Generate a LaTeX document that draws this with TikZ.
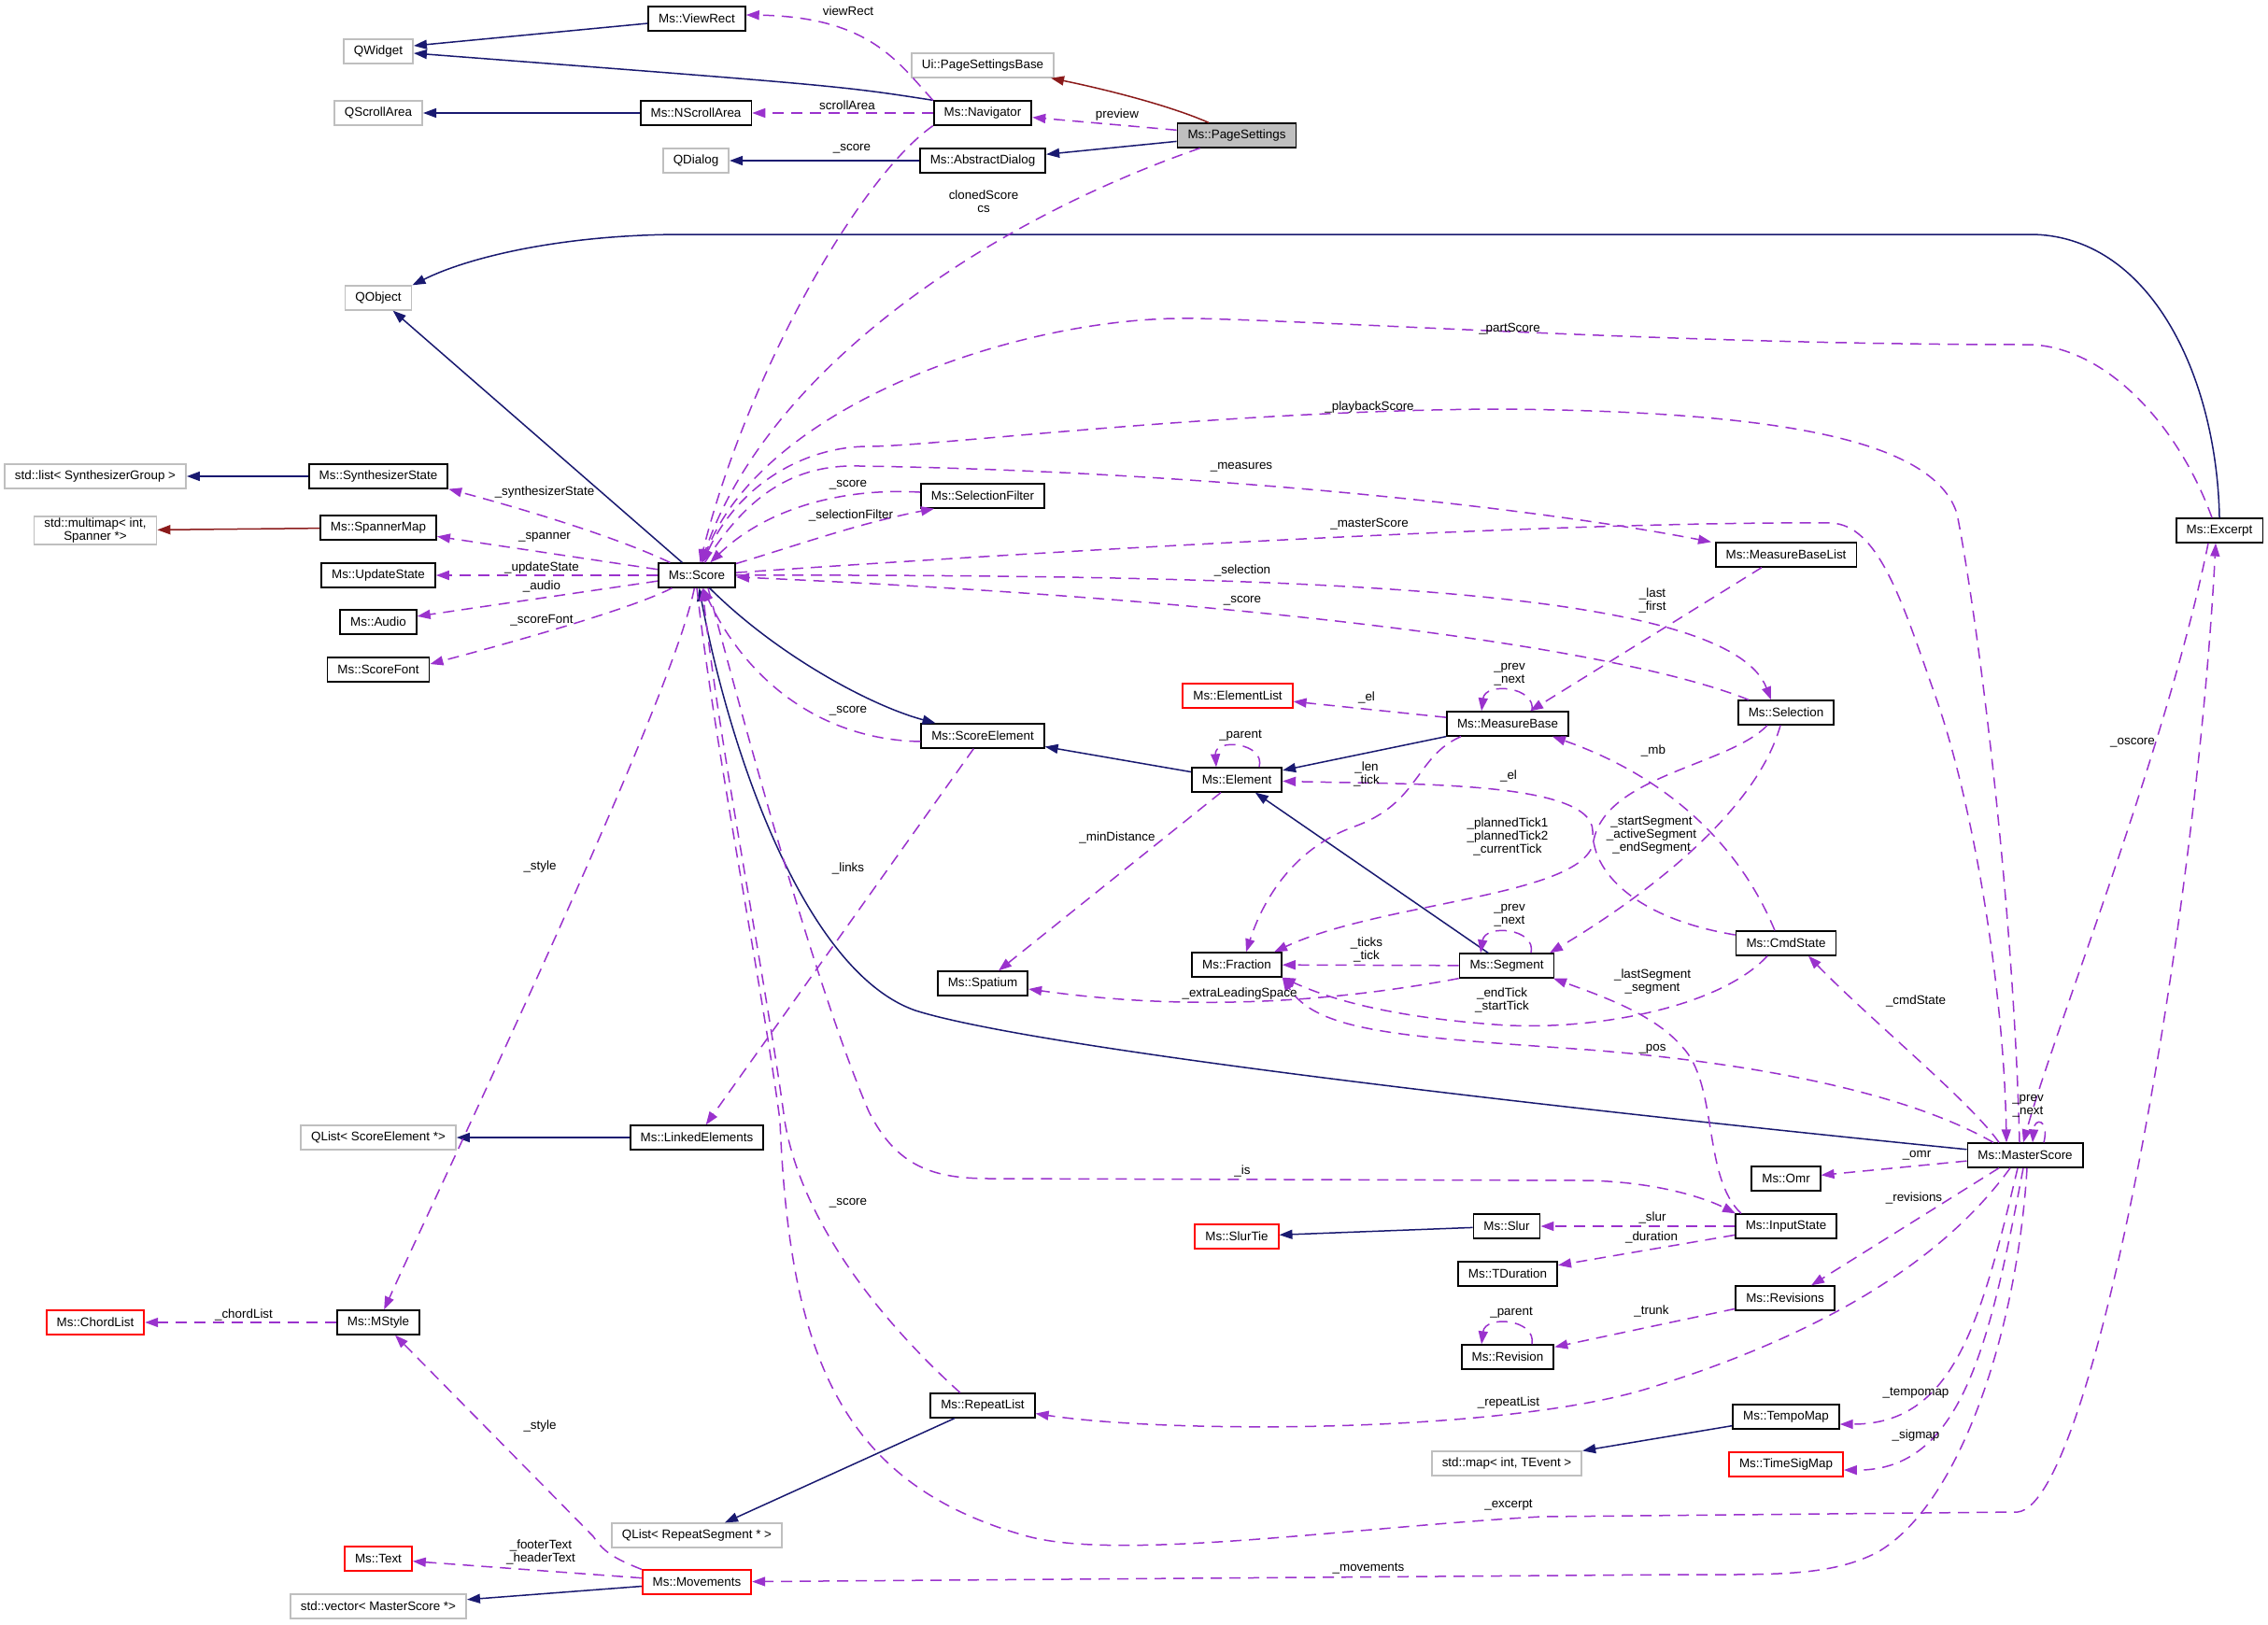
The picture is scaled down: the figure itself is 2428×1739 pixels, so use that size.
\documentclass[tikz,border=0pt]{standalone}
\usepackage{fontspec}
\setmainfont{Liberation Sans}
\usepackage{tikz}
\usetikzlibrary{arrows.meta}
\usepackage{xcolor}
\definecolor{inheritblue}{HTML}{191970}
\definecolor{privred}{HTML}{8B1A1A}
\definecolor{usepurple}{HTML}{9A32CD}
\definecolor{extgrey}{HTML}{BFBFBF}
\tikzset{
  classbox/.style={
    draw=black,
    fill=white,
    line width=0.9pt,
    minimum height=12.75pt,
    inner xsep=5.5pt,
    inner ysep=1pt,
    font=\fontsize{6.7}{7}\selectfont
  },
  extbox/.style={
    classbox,
    draw=extgrey
  },
  undocbox/.style={
    classbox,
    draw=red
  },
  focusbox/.style={
    classbox,
    fill=extgrey
  },
  lbl/.style={
    align=center,
    inner sep=0pt,
    font=\fontsize{6.7}{7}\selectfont
  },
  inherit/.style={
    -{Triangle[length=7pt,width=5pt]},
    line width=0.75pt,
    draw=inheritblue
  },
  privinherit/.style={
    inherit,
    draw=privred
  },
  uses/.style={
    -{Triangle[length=7pt,width=5pt]},
    line width=0.75pt,
    draw=usepurple,
    dash pattern=on 6pt off 4pt
  }
}

\begin{document}
\begin{tikzpicture}[x=0.5pt, y=-0.5pt]
\useasboundingbox (0,0) rectangle (2428,1739);
\node[classbox] (viewrect) at (746,20) {Ms::ViewRect};
\node[extbox] (qwidget) at (405,55) {QWidget};
\node[extbox] (qscroll) at (405,121) {QScrollArea};
\node[classbox] (nscroll) at (745,121) {Ms::NScrollArea};
\node[extbox] (qdialog) at (745,172) {QDialog};
\node[extbox] (pagebase) at (1052,70) {Ui::PageSettingsBase};
\node[classbox] (navigator) at (1052,121) {Ms::Navigator};
\node[classbox] (absdialog) at (1052,172) {Ms::AbstractDialog};
\node[focusbox] (pagesettings) at (1324,145) {Ms::PageSettings};
\node[extbox] (qobject) at (405,319) {QObject};
\node[extbox] (stdlist) at (102,510) {std::list< SynthesizerGroup >};
\node[classbox] (synthstate) at (405,510) {Ms::SynthesizerState};
\node[extbox, align=center] (multimap) at (102,568) {std::multimap< int,\\Spanner *>};
\node[classbox] (spannermap) at (405,565) {Ms::SpannerMap};
\node[classbox] (updatestate) at (405,616) {Ms::UpdateState};
\node[classbox] (audio) at (405,666) {Ms::Audio};
\node[classbox] (scorefont) at (405,717) {Ms::ScoreFont};
\node[classbox] (score) at (746,616) {Ms::Score};
\node[classbox] (selfilter) at (1052,531) {Ms::SelectionFilter};
\node[classbox] (mblist) at (1912,594) {Ms::MeasureBaseList};
\node[classbox] (excerpt) at (2376,568) {Ms::Excerpt};
\node[undocbox] (elemlist) at (1325,745) {Ms::ElementList};
\node[classbox] (selection) at (1912,763) {Ms::Selection};
\node[classbox] (measurebase) at (1614,775) {Ms::MeasureBase};
\node[classbox] (scoreelem) at (1052,788) {Ms::ScoreElement};
\node[classbox] (element) at (1324,835) {Ms::Element};
\node[classbox] (cmdstate) at (1912,1010) {Ms::CmdState};
\node[classbox] (fraction) at (1324,1033) {Ms::Fraction};
\node[classbox] (segment) at (1613,1034) {Ms::Segment};
\node[classbox] (spatium) at (1052,1053) {Ms::Spatium};
\node[extbox] (qlistse) at (405,1218) {QList< ScoreElement *>};
\node[classbox] (linked) at (746,1218) {Ms::LinkedElements};
\node[classbox] (masterscore) at (2168,1237) {Ms::MasterScore};
\node[classbox] (omr) at (1912,1262) {Ms::Omr};
\node[classbox] (inputstate) at (1912,1313) {Ms::InputState};
\node[classbox] (slur) at (1613,1313) {Ms::Slur};
\node[undocbox] (slurtie) at (1324,1324) {Ms::SlurTie};
\node[classbox] (tduration) at (1614,1364) {Ms::TDuration};
\node[classbox] (revisions) at (1911,1390) {Ms::Revisions};
\node[undocbox] (chordlist) at (102,1416) {Ms::ChordList};
\node[classbox] (mstyle) at (405,1416) {Ms::MStyle};
\node[classbox] (revision) at (1614,1453) {Ms::Revision};
\node[classbox] (repeatlist) at (1052,1505) {Ms::RepeatList};
\node[classbox] (tempomap) at (1912,1517) {Ms::TempoMap};
\node[extbox] (stdmap) at (1613,1567) {std::map< int, TEvent >};
\node[undocbox] (timesigmap) at (1912,1568) {Ms::TimeSigMap};
\node[extbox] (qlistrs) at (746,1644) {QList< RepeatSegment * >};
\node[undocbox] (text) at (405,1669) {Ms::Text};
\node[undocbox] (movements) at (746,1694) {Ms::Movements};
\node[extbox] (stdvector) at (405,1720) {std::vector< MasterScore *>};

\draw[inherit] (viewrect) -- ([yshift=3pt]qwidget.east);
\draw[inherit] (navigator.north west) .. controls (900,92) .. ([yshift=-1pt]qwidget.east);
\draw[inherit] (nscroll) -- (qscroll);
\draw[inherit] (absdialog) -- (qdialog);
\draw[inherit] (pagesettings) -- (absdialog);
\draw[privinherit] ([xshift=-15pt]pagesettings.north) .. controls (1250,112) and (1180,95) .. ([xshift=-2pt]pagebase.south east);
\draw[inherit] (excerpt.north) .. controls (2373,400) and (2300,251) .. (2173,251) -- (733,251) .. controls (600,251) and (500,276) .. (qobject.north east);
\draw[inherit] (score) -- (qobject);
\draw[inherit] (synthstate) -- (stdlist);
\draw[privinherit] (spannermap) -- (multimap);
\draw[inherit] (score) .. controls (830,700) and (930,755) .. (scoreelem);
\draw[inherit] (element) -- (scoreelem);
\draw[inherit] (measurebase) -- (element);
\draw[inherit] (segment) -- (element);
\draw[inherit] (masterscore) .. controls (1600,1180) and (1100,1120) .. (980,1082) .. controls (860,1040) and (780,800) .. (score);
\draw[inherit] (linked) -- (qlistse);
\draw[inherit] (repeatlist) -- (qlistrs);
\draw[inherit] (slur) -- (slurtie);
\draw[inherit] (movements) -- (stdvector);
\draw[inherit] (tempomap) -- (stdmap);

\draw[uses] (navigator.north west) .. controls (960,65) and (930,18) .. ([yshift=2pt]viewrect.east);
\draw[uses] (navigator) -- (nscroll);
\draw[uses] (pagesettings) -- (navigator);
\draw[uses] (navigator.south west) .. controls (920,190) and (800,400) .. (score);
\draw[uses] (pagesettings) .. controls (1050,240) and (820,400) .. (score);
\draw[uses] ([xshift=-4pt]excerpt.north) .. controls (2330,450) and (2250,369) .. (2170,369) .. controls (1800,369) and (1450,345) .. (1280,341) .. controls (1100,337) and (820,430) .. (score);
\draw[uses] ([xshift=-3pt]masterscore.north) .. controls (2155,950) and (2115,650) .. (2095,550) .. controls (2070,470) and (1900,440) .. (1600,438) .. controls (1300,440) and (1000,478) .. (930,478) .. controls (860,478) and (790,520) .. (score);
\draw[uses] (score) .. controls (800,530) and (850,497) .. (920,499) .. controls (1300,505) and (1650,545) .. ([xshift=-40pt]mblist.north);
\draw[uses] (score) .. controls (1200,585) and (1700,558) .. (1960,560) .. controls (2010,562) and (2035,640) .. (2070,740) .. controls (2110,850) and (2145,1050) .. ([xshift=-10pt]masterscore.north);
\draw[uses] (selfilter) .. controls (900,522) and (820,545) .. (score);
\draw[uses] (score) .. controls (850,585) and (920,560) .. ([xshift=-26pt]selfilter.south);
\draw[uses] (score) .. controls (660,575) and (560,545) .. (synthstate.south east);
\draw[uses] (score) -- (spannermap);
\draw[uses] (score) -- (updatestate);
\draw[uses] (score) -- (audio);
\draw[uses] (score) .. controls (680,650) and (570,682) .. ([yshift=3pt]scorefont.east);
\draw[uses] (score) .. controls (720,750) and (480,1250) .. (mstyle);
\draw[uses] (score) .. controls (1400,615) and (1850,630) .. ([xshift=-8pt]selection.north);
\draw[uses] ([xshift=-20pt]selection.north) .. controls (1750,700) and (1400,645) .. (score);
\draw[uses] ([yshift=-3pt]scoreelem.west) .. controls (880,792) and (800,730) .. (score);
\draw[uses] (scoreelem) -- (linked);
\draw[uses] (measurebase) -- (elemlist);
\draw[uses] ([xshift=13pt]measurebase.north) .. controls (1645,735) and (1590,730) .. ([xshift=-14pt]measurebase.north);
\draw[uses] ([xshift=12pt]element.north) .. controls (1355,795) and (1300,790) .. ([xshift=-11pt]element.north);
\draw[uses] ([xshift=-25pt]measurebase.south) .. controls (1515,810) and (1520,860) .. (1450,885) .. controls (1380,910) and (1350,970) .. ([xshift=5pt]fraction.north);
\draw[uses] (cmdstate) .. controls (1760,985) and (1705,940) .. (1705,890) .. controls (1705,835) and (1500,840) .. (element);
\draw[uses] ([xshift=-10pt]selection.south) .. controls (1850,820) and (1720,830) .. (1706,900) .. controls (1700,960) and (1480,965) .. ([xshift=20pt]fraction.north);
\draw[uses] ([xshift=-3pt]selection.south) .. controls (1880,870) and (1760,960) .. ([xshift=23pt]segment.north);
\draw[uses] ([xshift=-6pt]cmdstate.north) .. controls (1860,900) and (1780,830) .. ([xshift=24pt]measurebase.south);
\draw[uses] ([xshift=-13pt]mblist.south) -- ([xshift=12pt]measurebase.north);
\draw[uses] ([xshift=-14pt]masterscore.north) .. controls (2110,1180) and (2000,1090) .. ([xshift=12pt]cmdstate.south);
\draw[uses] ([xshift=-17pt]masterscore.north) .. controls (2050,1175) and (1900,1140) .. (1700,1124) .. controls (1500,1110) and (1410,1105) .. (fraction.south east);
\draw[uses] ([xshift=-10pt]cmdstate.south) .. controls (1840,1080) and (1700,1105) .. (1600,1097) .. controls (1480,1088) and (1420,1068) .. (fraction.south east);
\draw[uses] (segment) -- (fraction);
\draw[uses] (segment.south west) .. controls (1400,1078) and (1250,1080) .. ([yshift=-3pt]spatium.east);
\draw[uses] ([xshift=13pt]segment.north) .. controls (1645,994) and (1590,989) .. ([xshift=-14pt]segment.north);
\draw[uses] (element) -- (spatium);
\draw[uses] ([xshift=-24pt]inputstate.north) .. controls (1822,1260) and (1840,1160) .. (1800,1120) .. controls (1770,1085) and (1710,1065) .. ([xshift=25pt]segment.south);
\draw[uses] ([xshift=6pt]score.south) .. controls (790,750) and (870,1050) .. (930,1190) .. controls (960,1250) and (1000,1262) .. (1060,1262) -- (1700,1264) .. controls (1780,1266) and (1830,1285) .. ([xshift=-27pt]inputstate.north);
\draw[uses] ([xshift=-12pt]repeatlist.north) .. controls (960,1430) and (860,1320) .. (840,1200) .. controls (820,1050) and (770,800) .. ([xshift=3pt]score.south);
\draw[uses] (score.south) .. controls (765,800) and (815,1050) .. (835,1200) .. controls (845,1450) and (900,1590) .. (1100,1645) .. controls (1200,1672) and (1450,1635) .. (1650,1624) -- (2160,1619) .. controls (2240,1610) and (2350,1000) .. ([xshift=-2pt]excerpt.south);
\draw[uses] ([xshift=-6pt]excerpt.south) .. controls (2320,800) and (2200,1100) .. ([xshift=-1pt]masterscore.north);
\draw[uses] ([xshift=10pt]masterscore.north) .. controls (2194,1198) and (2178,1196) .. ([xshift=4pt]masterscore.north);
\draw[uses] (masterscore) -- (omr);
\draw[uses] ([xshift=-14pt]masterscore.south) -- ([xshift=14pt]revisions.north);
\draw[uses] ([xshift=-8pt]masterscore.south) .. controls (2080,1350) and (1950,1430) .. (1760,1488) .. controls (1600,1535) and (1250,1535) .. (repeatlist);
\draw[uses] ([xshift=-4pt]masterscore.south) .. controls (2120,1420) and (2090,1525) .. ([yshift=-4pt]tempomap.east);
\draw[uses] ([xshift=-1pt]masterscore.south) .. controls (2130,1440) and (2100,1575) .. ([yshift=-3pt]timesigmap.east);
\draw[uses] ([xshift=1pt]masterscore.south) .. controls (2160,1420) and (2100,1610) .. (2010,1662) .. controls (1960,1688) and (1900,1686) .. (1800,1686) -- (movements);
\draw[uses] (inputstate) -- (slur);
\draw[uses] (inputstate) -- (tduration);
\draw[uses] (revisions) -- (revision);
\draw[uses] ([xshift=13pt]revision.north) .. controls (1645,1412) and (1590,1408) .. ([xshift=-14pt]revision.north);
\draw[uses] (movements) -- (text);
\draw[uses] (movements.north west) .. controls (655,1668) and (645,1660) .. (635,1645) -- ([xshift=9pt]mstyle.south);
\draw[uses] (mstyle) -- (chordlist);

\node[lbl] (lviewrect) at (908,12) {viewRect};
\node[lbl] (lscrollarea) at (907,113) {scrollArea};
\node[lbl] (lpreview) at (1196,123) {preview};
\node[lbl] (lnavscore) at (912,159) {\_score};
\node[lbl] (lcloned) at (1053,216) {clonedScore\\cs};
\node[lbl] (lpartscore) at (1616,352) {\_partScore};
\node[lbl] (lplayback) at (1466,436) {\_playbackScore};
\node[lbl] (lmeasures) at (1329,500) {\_measures};
\node[lbl] (lsfscore) at (908,519) {\_score};
\node[lbl] (lselfilter) at (911,552) {\_selectionFilter};
\node[lbl] (lmasterscore) at (1466,561) {\_masterScore};
\node[lbl] (lsynth) at (583,527) {\_synthesizerState};
\node[lbl] (lspanner) at (583,575) {\_spanner};
\node[lbl] (lupdate) at (580,608) {\_updateState};
\node[lbl] (laudio) at (580,628) {\_audio};
\node[lbl] (lscorefont) at (580,664) {\_scoreFont};
\node[lbl] (lselection) at (1330,611) {\_selection};
\node[lbl] (lselscore) at (1330,643) {\_score};
\node[lbl] (llastfirst) at (1769,643) {\_last\\\_first};
\node[lbl] (lmbprev) at (1616,722) {\_prev\\\_next};
\node[lbl] (lel) at (1463,747) {\_el};
\node[lbl] (lsescore) at (908,761) {\_score};
\node[lbl] (lparent) at (1328,788) {\_parent};
\node[lbl] (lmb) at (1770,804) {\_mb};
\node[lbl] (llentick) at (1463,829) {\_len\\\_tick};
\node[lbl] (lcmdel) at (1615,831) {\_el};
\node[lbl] (loscore) at (2283,795) {\_oscore};
\node[lbl] (lsegs) at (1768,894) {\_startSegment\\\_activeSegment\\\_endSegment};
\node[lbl] (lplanned) at (1614,896) {\_plannedTick1\\\_plannedTick2\\\_currentTick};
\node[lbl] (lmindist) at (1196,897) {\_minDistance};
\node[lbl] (llinks) at (908,930) {\_links};
\node[lbl] (lstyle) at (578,928) {\_style};
\node[lbl] (lsegprev) at (1616,980) {\_prev\\\_next};
\node[lbl] (lticks) at (1463,1017) {\_ticks\\\_tick};
\node[lbl] (llastseg) at (1769,1051) {\_lastSegment\\\_segment};
\node[lbl] (lendtick) at (1608,1071) {\_endTick\\\_startTick};
\node[lbl] (lextra) at (1327,1064) {\_extraLeadingSpace};
\node[lbl] (lcmdstate) at (2051,1072) {\_cmdState};
\node[lbl] (lpos) at (1769,1123) {\_pos};
\node[lbl] (lmsprev) at (2171,1184) {\_prev\\\_next};
\node[lbl] (lomr) at (2052,1237) {\_omr};
\node[lbl] (lis) at (1330,1254) {\_is};
\node[lbl] (lrevisions) at (2049,1283) {\_revisions};
\node[lbl] (lrlscore) at (908,1288) {\_score};
\node[lbl] (lslur) at (1769,1304) {\_slur};
\node[lbl] (lduration) at (1768,1325) {\_duration};
\node[lbl] (lrevparent) at (1618,1406) {\_parent};
\node[lbl] (ltrunk) at (1768,1404) {\_trunk};
\node[lbl] (lchord) at (261,1408) {\_chordList};
\node[lbl] (ltempo) at (2051,1492) {\_tempomap};
\node[lbl] (lrepeat) at (1615,1502) {\_repeatList};
\node[lbl] (lmovstyle) at (578,1527) {\_style};
\node[lbl] (lsigmap) at (2051,1537) {\_sigmap};
\node[lbl] (lexcerpt) at (1615,1612) {\_excerpt};
\node[lbl] (lfooter) at (579,1662) {\_footerText\\\_headerText};
\node[lbl] (lmovements) at (1465,1679) {\_movements};
\end{tikzpicture}
\end{document}
